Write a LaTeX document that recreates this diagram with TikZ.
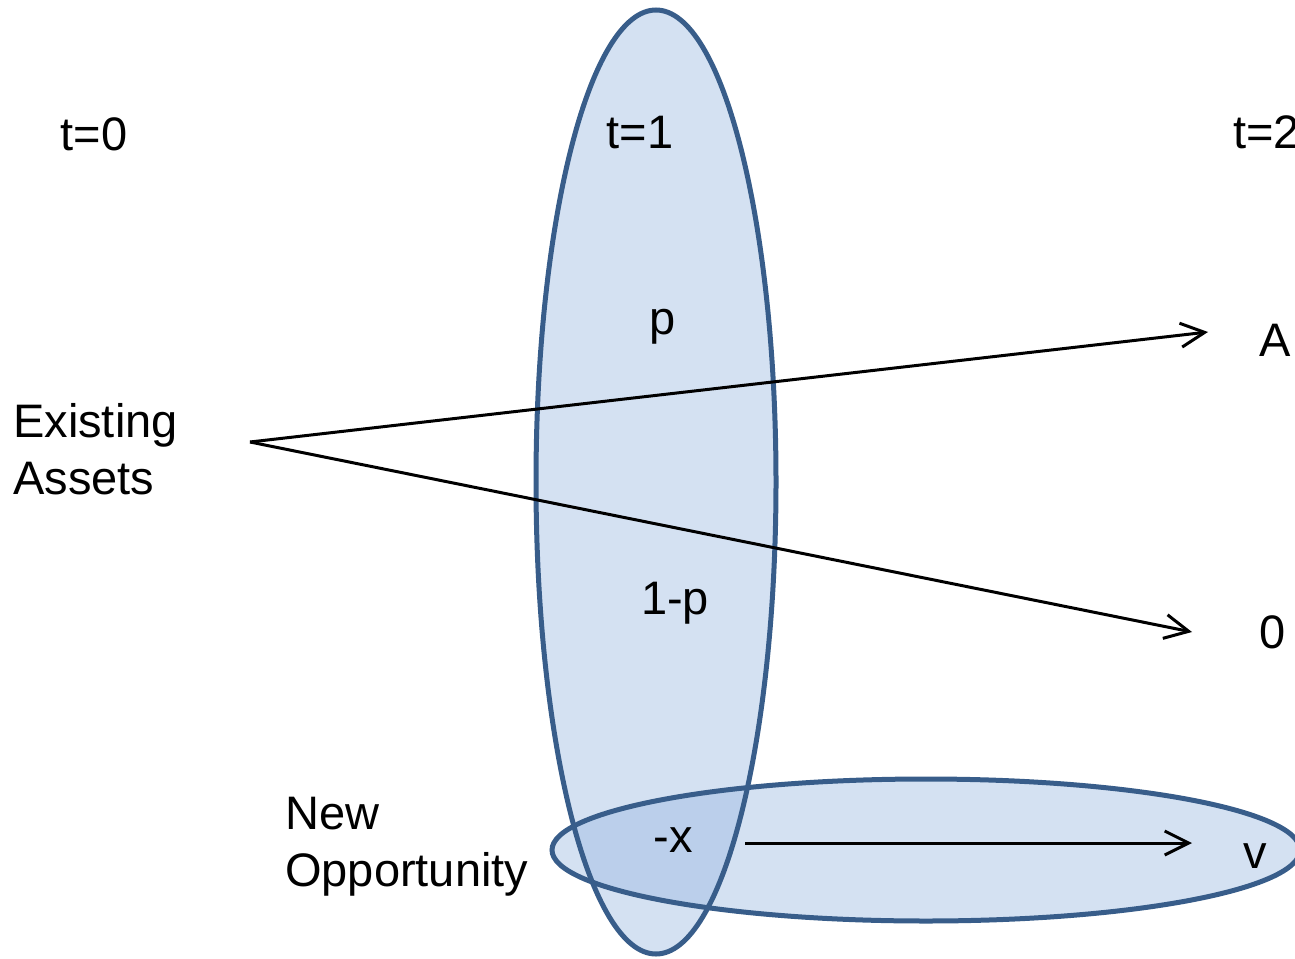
\documentclass[tikz,border=0pt]{standalone}
\usepackage{fontspec}
\setmainfont{Liberation Sans}
\usetikzlibrary{arrows.meta}
\definecolor{edgeblue}{RGB}{56,93,138}
\definecolor{fillblue}{RGB}{148,180,223}
\tikzset{
  blobfill/.style={fill=fillblue, fill opacity=0.4},
  blobedge/.style={draw=edgeblue, line width=5pt},
  lbl/.style={font=\fontsize{47}{57}\selectfont, inner sep=0pt, anchor=base},
  lbll/.style={font=\fontsize{47}{57}\selectfont, inner sep=0pt, anchor=base west, align=left},
  flow/.style={line width=3pt, -{Straight Barb[length=24pt,width=24pt,line width=3pt]}}
}
\begin{document}
\begin{tikzpicture}[x=1pt,y=-1pt]
\useasboundingbox (0,0) rectangle (1295,958);
\clip (0,0) rectangle (1295,958);
\fill[blobfill] (926,850) ellipse [x radius=374, y radius=71];
\fill[blobfill] (656,482) ellipse [x radius=120, y radius=472];
\draw[blobedge] (926,850) ellipse [x radius=374, y radius=71];
\draw[blobedge] (656,482) ellipse [x radius=120, y radius=472];
\node[lbl] (t0) at (94,150) {t=0};
\node[lbl] (t1) at (640,148) {t=1};
\node[lbl, anchor=base west] (t2) at (1233,148) {t=2};
\node[lbl] (p) at (663,334) {p};
\node[lbl] (q) at (675,614) {1-p};
\node[lbl] (x) at (673,852) {-x};
\node[lbl] (A) at (1275,356) {A};
\node[lbl] (z) at (1273,648) {0};
\node[lbl] (v) at (1255,868) {v};
\node[lbll] (ea) at (13,494) {Existing\\Assets};
\node[lbll] (no) at (285,886) {New\\Opportunity};
\coordinate (src) at (250,442);
\coordinate (endA) at (1208,332);
\coordinate (endZ) at (1192,632);
\coordinate (startV) at (745,843);
\coordinate (endV) at (1192,843);
\draw[flow] (src) -- (endA);
\draw[flow] (src) -- (endZ);
\draw[flow] (startV) -- (endV);
\end{tikzpicture}
\end{document}
